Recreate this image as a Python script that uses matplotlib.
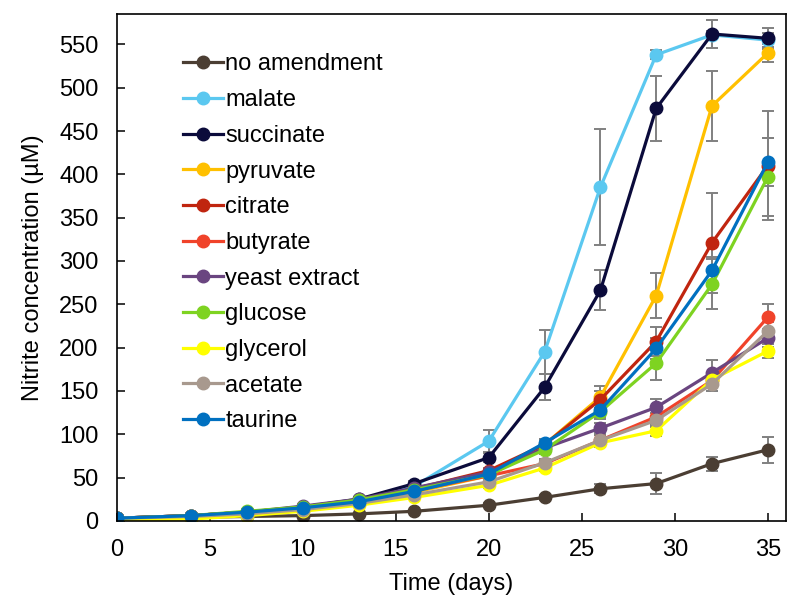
"""Nitrite production over time for different carbon amendments."""

import matplotlib

matplotlib.use("Agg")

import matplotlib.pyplot as plt

days = [0, 4, 7, 10, 13, 16, 20, 23, 26, 29, 32, 35]

labels = [
    "no amendment",
    "malate",
    "succinate",
    "pyruvate",
    "citrate",
    "butyrate",
    "yeast extract",
    "glucose",
    "glycerol",
    "acetate",
    "taurine",
]

colors = [
    "#4b3e33",
    "#5bc8f0",
    "#0b0b3b",
    "#ffc000",
    "#c0250f",
    "#f0432a",
    "#6a4580",
    "#7ed321",
    "#ffff00",
    "#a8998e",
    "#0070c0",
]

no_amendment = [3, 4, 5, 6, 8, 11, 18, 27, 37, 43, 66, 82]
malate = [3, 6, 10, 16, 24, 40, 92, 195, 385, 538, 561, 555]
succinate = [3, 6, 10, 16, 25, 43, 73, 154, 266, 476, 562, 557]
pyruvate = [3, 5, 8, 13, 20, 33, 52, 88, 143, 260, 479, 540]
citrate = [3, 6, 10, 16, 24, 37, 58, 88, 140, 207, 321, 410]
butyrate = [3, 6, 10, 16, 23, 35, 52, 66, 93, 120, 162, 235]
yeast_extract = [3, 6, 10, 17, 25, 38, 56, 84, 107, 131, 171, 211]
glucose = [3, 6, 11, 16, 24, 36, 53, 82, 126, 182, 273, 397]
glycerol = [1, 2, 6, 11, 18, 27, 41, 61, 90, 104, 163, 196]
acetate = [3, 5, 8, 13, 20, 30, 45, 67, 93, 116, 158, 219]
taurine = [3, 6, 10, 15, 22, 34, 54, 90, 128, 199, 289, 414]

no_amendment_err = [1, 1, 1, 1, 1, 1, 2, 3, 5, 12, 8, 15]
malate_err = [1, 1, 1, 2, 2, 3, 13, 25, 67, 5, 5, 8]
succinate_err = [1, 1, 1, 2, 2, 3, 5, 15, 23, 37, 16, 12]
pyruvate_err = [1, 1, 1, 1, 2, 2, 4, 6, 13, 26, 40, 10]
citrate_err = [1, 1, 1, 1, 2, 2, 3, 5, 10, 17, 58, 63]
butyrate_err = [1, 1, 1, 1, 2, 2, 3, 4, 6, 8, 8, 15]
yeast_extract_err = [1, 1, 1, 1, 2, 2, 3, 4, 6, 10, 15, 10]
glucose_err = [1, 1, 1, 1, 2, 2, 3, 5, 8, 19, 29, 45]
glycerol_err = [1, 1, 1, 1, 1, 2, 3, 4, 5, 6, 8, 8]
acetate_err = [1, 1, 1, 1, 1, 2, 3, 4, 6, 8, 8, 10]
taurine_err = [1, 1, 1, 1, 2, 2, 3, 5, 8, 12, 15, 28]

series = [
    no_amendment,
    malate,
    succinate,
    pyruvate,
    citrate,
    butyrate,
    yeast_extract,
    glucose,
    glycerol,
    acetate,
    taurine,
]

errors = [
    no_amendment_err,
    malate_err,
    succinate_err,
    pyruvate_err,
    citrate_err,
    butyrate_err,
    yeast_extract_err,
    glucose_err,
    glycerol_err,
    acetate_err,
    taurine_err,
]

plt.rcParams["font.family"] = ["Liberation Sans", "DejaVu Sans"]

figure = plt.figure(figsize=(8.0, 6.12), dpi=100)
axis = figure.add_axes([0.146, 0.149, 0.837, 0.828])

# barras de error primero, por debajo de las curvas
for values, err in zip(series, errors):
    axis.errorbar(
        days,
        values,
        yerr=err,
        fmt="none",
        ecolor="#808080",
        elinewidth=1.4,
        capsize=4,
        capthick=1.4,
        zorder=1,
    )

for values, label, color in zip(series, labels, colors):
    axis.plot(
        days,
        values,
        color=color,
        linewidth=2.3,
        marker="o",
        markersize=9,
        label=label,
        zorder=2,
    )

axis.set_xlim(0, 36)
axis.set_ylim(0, 585)
axis.set_xticks(range(0, 36, 5))
axis.set_yticks(range(0, 551, 50))

axis.tick_params(
    direction="in",
    length=6,
    width=1.1,
    labelsize=17,
    pad=13,
)

for spine in axis.spines.values():
    spine.set_linewidth(1.2)

axis.set_xlabel("Time (days)", fontsize=17, labelpad=9)
axis.set_ylabel("Nitrite concentration (µM)", fontsize=17, labelpad=11)

axis.legend(
    loc="upper left",
    bbox_to_anchor=(0.085, 0.941),
    frameon=False,
    fontsize=17,
    handlelength=1.7,
    handletextpad=0.09,
    labelspacing=0.58,
    borderaxespad=0,
)

figure.savefig("out.png", dpi=100)
plt.close(figure)
